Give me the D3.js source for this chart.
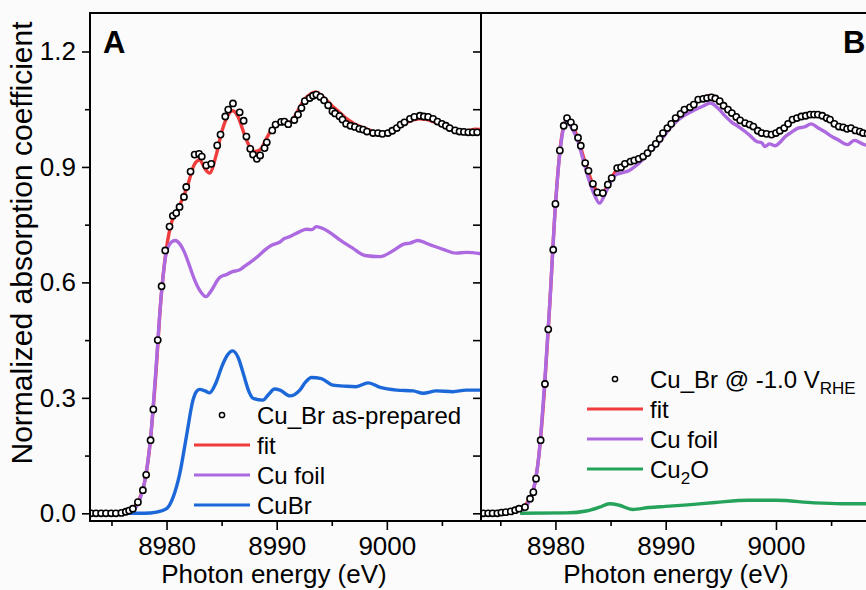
<!DOCTYPE html>
<html>
<head>
<meta charset="utf-8">
<script src="https://cdn.jsdelivr.net/npm/d3@7"></script>
<style>
  body { margin: 0; background: #fbfbfb; }
  svg { display: block; font-family: "Liberation Sans", Arial, sans-serif; }
</style>
</head>
<body>
<div id="chart"></div>
<script>
// ---- Panel A: Cu_Br as-prepared ----
const dotsA = [
  [8973.15,0.0],[8973.6,0.0],[8974.06,0.0],[8974.5,0.0],[8974.97,0.0],[8975.4,0.0],[8975.9,0.001],
  [8976.3,0.004],[8976.6,0.007],[8976.94,0.012],[8977.4,0.029],[8977.85,0.06],[8978.15,0.10],
  [8978.55,0.19],[8978.8,0.27],[8979.2,0.45],[8979.55,0.59],[8979.88,0.683],[8980.27,0.745],
  [8980.57,0.773],[8980.88,0.78],[8981.18,0.796],[8981.58,0.822],[8981.79,0.848],[8982.18,0.888],
  [8982.55,0.932],[8982.95,0.934],[8983.2,0.927],[8983.6,0.904],[8984.06,0.908],[8984.6,0.956],
  [8984.9,0.984],[8985.33,1.031],[8985.6,1.049],[8986.03,1.065],[8986.64,1.042],[8987.0,1.02],
  [8987.25,0.979],[8987.6,0.947],[8987.85,0.932],[8988.2,0.921],[8988.5,0.93],[8988.9,0.949],
  [8989.1,0.964],[8989.6,0.995],[8989.9,1.010],[8990.4,1.017],[8990.7,1.018],[8991.05,1.011],
  [8991.6,1.022],[8991.94,1.036],[8992.25,1.053],[8992.55,1.071],[8993.0,1.079],[8993.3,1.085],
  [8993.6,1.088],[8993.97,1.082],[8994.3,1.073],[8994.67,1.06],[8995.06,1.045],[8995.3,1.039],
  [8995.7,1.032],[8995.97,1.023],[8996.3,1.012],[8996.7,1.007],[8997.1,1.004],[8997.5,0.999],
  [8997.85,0.997],[8998.2,0.992],[8998.75,0.988],[8999.2,0.988],[8999.6,0.986],[9000.1,0.988],
  [9000.5,0.994],[9000.9,1.001],[9001.25,1.010],[9001.6,1.016],[9002.1,1.025],[9002.5,1.030],
  [9003.0,1.033],[9003.36,1.031],[9003.75,1.030],[9004.2,1.025],[9004.6,1.018],[9005.0,1.012],
  [9005.36,1.007],[9005.7,1.001],[9006.2,0.995],[9006.6,0.992],[9007.0,0.991],[9007.4,0.990],
  [9007.8,0.990],[9008.2,0.990]
];
const fitA = [
  [8976.5,0.005],[8977,0.015],[8977.5,0.035],[8978,0.08],[8978.5,0.18],[8979,0.35],[8979.5,0.56],
  [8980,0.69],[8980.5,0.76],[8981,0.79],[8981.5,0.82],[8982,0.86],[8982.5,0.905],[8983,0.918],
  [8983.5,0.895],[8983.9,0.884],[8984.5,0.93],[8985,0.99],[8985.5,1.03],[8986,1.046],[8986.5,1.03],
  [8987,0.99],[8987.5,0.955],[8988,0.94],[8988.5,0.945],[8989,0.97],[8989.5,0.995],[8990,1.01],
  [8990.5,1.015],[8991,1.013],[8991.5,1.025],[8992,1.05],[8992.5,1.075],[8993,1.088],[8993.5,1.095],
  [8994,1.088],[8994.5,1.074],[8995,1.06],[8995.5,1.047],[8996,1.034],[8996.5,1.022],[8997,1.013],
  [8997.5,1.006],[8998,1.0],[8998.5,0.995],[8999,0.99],[8999.5,0.989],[9000,0.991],[9000.5,0.997],
  [9001,1.005],[9001.5,1.012],[9002,1.018],[9002.5,1.023],[9003,1.025],[9003.5,1.024],[9004,1.02],
  [9004.5,1.015],[9005,1.01],[9005.5,1.004],[9006,0.999],[9006.5,0.994],[9007,0.993],[9007.5,0.995],
  [9008,0.998],[9008.6,0.997]
];
const foilA = [
  [8976.5,0.0],[8977,0.008],[8977.5,0.03],[8978,0.08],[8978.5,0.18],[8979,0.36],[8979.5,0.56],
  [8980,0.68],[8980.5,0.706],[8980.8,0.709],[8981.2,0.70],[8981.6,0.68],[8982,0.65],[8982.5,0.61],
  [8983,0.58],[8983.6,0.563],[8984,0.576],[8984.8,0.612],[8985.4,0.62],[8986,0.628],[8986.6,0.632],
  [8987,0.64],[8987.5,0.65],[8988.3,0.668],[8989,0.686],[8989.5,0.696],[8990.3,0.705],[8990.7,0.714],
  [8991.2,0.719],[8992.1,0.732],[8992.7,0.738],[8993.2,0.737],[8993.6,0.745],[8994.2,0.74],
  [8994.7,0.732],[8995.7,0.711],[8996.9,0.689],[8998,0.670],[8999.4,0.667],[9000.6,0.683],
  [9001.6,0.700],[9002.1,0.702],[9002.8,0.709],[9003.9,0.698],[9005.1,0.686],[9006.3,0.676],
  [9007.2,0.678],[9008.6,0.674]
];
const cubrA = [
  [8976.4,0.0],[8978,0.0],[8979.1,0.003],[8980,0.012],[8980.6,0.042],[8981.2,0.103],[8981.8,0.199],
  [8982.4,0.294],[8982.7,0.316],[8983,0.322],[8983.5,0.318],[8983.9,0.313],[8984.5,0.34],
  [8985,0.38],[8985.5,0.41],[8986,0.422],[8986.5,0.405],[8987,0.36],[8987.5,0.315],[8987.85,0.299],
  [8988.75,0.294],[8989.3,0.31],[8989.8,0.323],[8990.3,0.32],[8991.2,0.305],[8992.1,0.32],
  [8992.6,0.34],[8993.15,0.353],[8994.06,0.35],[8995.1,0.333],[8996.3,0.33],[8997.2,0.329],
  [8998.3,0.339],[8999.4,0.327],[9000.9,0.32],[9002.4,0.318],[9003.3,0.312],[9004.5,0.318],
  [9006,0.316],[9007.2,0.32],[9008.6,0.32]
];

// ---- Panel B: Cu_Br @ -1.0 V_RHE ----
const dotsB = [
  [8973.46,0.0],[8973.9,0.0],[8974.3,0.0],[8974.73,0.0],[8975.1,0.002],[8975.5,0.003],
  [8975.95,0.005],[8976.35,0.008],[8976.7,0.012],[8977.24,0.016],[8977.7,0.038],[8978.0,0.055],
  [8978.24,0.09],[8978.66,0.19],[8979.05,0.336],[8979.35,0.478],[8979.8,0.685],[8980.0,0.804],
  [8980.4,0.943],[8980.75,1.007],[8981.05,1.027],[8981.4,1.016],[8981.7,1.003],[8982.05,0.976],
  [8982.3,0.955],[8982.7,0.91],[8983.0,0.89],[8983.4,0.856],[8983.8,0.834],[8984.3,0.832],
  [8984.75,0.854],[8985.1,0.871],[8985.6,0.897],[8985.95,0.899],[8986.3,0.908],[8986.8,0.914],
  [8987.15,0.917],[8987.55,0.921],[8987.95,0.927],[8988.35,0.936],[8988.7,0.949],[8989.1,0.96],
  [8989.45,0.973],[8989.75,0.988],[8990.15,1.001],[8990.5,1.012],[8990.9,1.027],[8991.35,1.038],
  [8991.7,1.049],[8992.2,1.055],[8992.55,1.062],[8992.95,1.075],[8993.4,1.077],[8993.75,1.079],
  [8994.15,1.081],[8994.5,1.078],[8994.9,1.071],[8995.25,1.059],[8995.65,1.049],[8996.0,1.04],
  [8996.4,1.03],[8996.75,1.021],[8997.2,1.014],[8997.6,1.01],[8997.95,1.005],[8998.35,0.994],
  [8998.7,0.988],[8999.15,0.986],[8999.6,0.984],[9000.0,0.988],[9000.35,0.994],[9000.75,1.001],
  [9001.1,1.012],[9001.5,1.023],[9001.9,1.027],[9002.3,1.031],[9002.7,1.033],[9003.1,1.036],
  [9003.45,1.036],[9003.8,1.036],[9004.2,1.033],[9004.6,1.027],[9004.9,1.023],[9005.3,1.012],
  [9005.7,1.005],[9006.1,1.003],[9006.45,0.999],[9006.8,1.001],[9007.2,0.995],[9007.6,0.992],
  [9007.9,0.988],[9008.3,0.986]
];
const fitB = [
  [8976.8,0.008],[8977.5,0.03],[8978,0.06],[8978.5,0.15],[8979,0.32],[8979.5,0.55],[8980,0.80],
  [8980.5,0.965],[8981,1.022],[8981.5,1.008],[8982,0.978],[8982.5,0.93],[8983,0.885],[8983.5,0.85],
  [8984,0.83],[8984.5,0.84],[8985,0.868],[8985.5,0.89],[8986.3,0.905],[8987.2,0.918],[8988,0.93],
  [8988.7,0.95],[8989.5,0.975],[8990.3,1.005],[8991,1.028],[8991.7,1.047],[8992.5,1.062],
  [8993.3,1.078],[8994,1.086],[8994.6,1.078],[8995.3,1.058],[8996,1.04],[8996.8,1.022],
  [8997.6,1.01],[8998.3,1.0],[8998.8,0.99],[8999.6,0.985],[9000.3,0.992],[9001,1.01],[9001.8,1.025],
  [9002.6,1.032],[9003.5,1.034],[9004.3,1.03],[9005,1.018],[9005.8,1.005],[9006.6,0.998],
  [9007.4,0.993],[9008.9,0.985]
];
const foilB = [
  [8977,0.005],[8977.5,0.025],[8978,0.06],[8978.5,0.15],[8979,0.33],[8979.5,0.55],[8980,0.80],
  [8980.5,0.96],[8981,1.02],[8981.5,1.0],[8982,0.97],[8982.5,0.92],[8983,0.87],[8983.5,0.83],
  [8984,0.806],[8984.5,0.83],[8985,0.86],[8985.5,0.88],[8986.1,0.885],[8986.7,0.891],[8987.3,0.903],
  [8987.9,0.919],[8988.6,0.94],[8989.4,0.964],[8990.1,0.99],[8990.9,1.016],[8991.6,1.032],
  [8992.4,1.045],[8993.3,1.057],[8994.05,1.066],[8994.8,1.051],[8995.4,1.032],[8996,1.016],
  [8996.6,1.005],[8997.2,0.992],[8997.7,0.98],[8998.25,0.966],[8998.7,0.963],[8999,0.953],
  [8999.4,0.96],[8999.9,0.955],[9000.4,0.965],[9000.8,0.978],[9001.4,0.99],[9002,1.001],
  [9002.6,1.004],[9003.2,1.012],[9003.8,1.002],[9004.4,0.992],[9005,0.98],[9005.6,0.971],
  [9006.5,0.958],[9007.1,0.969],[9008,0.958],[9008.9,0.955]
];
const cu2oB = [
  [8976.8,0.0],[8981,0.001],[8982.8,0.006],[8984,0.016],[8984.9,0.025],[8985.8,0.021],[8987,0.01],
  [8988.5,0.015],[8990,0.018],[8992,0.022],[8994.5,0.028],[8997.5,0.034],[9000,0.034],
  [9003.5,0.027],[9006,0.025],[9008.9,0.025]
];

const yMajor = [0, 0.3, 0.6, 0.9, 1.2];
const yMinor = [0.15, 0.45, 0.75, 1.05];
const xMajor = [8980, 8990, 9000];
const xMinor = [8975, 8985, 8995, 9005];

const colors = { fit: '#f03c3c', foil: '#ad6ae0', cubr: '#1c68d8', cu2o: '#25a35b' };

const W = 866, H = 590;
const plotTop = 13, plotBottom = 521;

const svg = d3.select('#chart').append('svg')
  .attr('width', W).attr('height', H);

const y = d3.scaleLinear().domain([-0.02, 1.3]).range([plotBottom, plotTop]);
const xA = d3.scaleLinear().domain([8973.05, 9008.55]).range([90, 481]);
const xB = d3.scaleLinear().domain([8973.25, 9008.8]).range([481, 873]);

svg.append('defs').selectAll('clipPath')
  .data([['clipA', 90, 481], ['clipB', 481, 873]])
  .enter().append('clipPath').attr('id', d => d[0])
  .append('rect')
  .attr('x', d => d[1]).attr('y', plotTop)
  .attr('width', d => d[2] - d[1]).attr('height', plotBottom - plotTop);

function drawPanel(x, clipId, series, dots) {
  const g = svg.append('g').attr('clip-path', `url(#${clipId})`);
  const line = d3.line().x(d => x(d[0])).y(d => y(d[1])).curve(d3.curveMonotoneX);
  series.forEach(s => {
    g.append('path')
      .datum(s.data)
      .attr('fill', 'none')
      .attr('stroke', s.color)
      .attr('stroke-width', 3.4)
      .attr('stroke-linejoin', 'round')
      .attr('d', line);
  });
  g.selectAll('circle.dot')
    .data(dots)
    .enter().append('circle')
    .attr('class', 'dot')
    .attr('cx', d => x(d[0]))
    .attr('cy', d => y(d[1]))
    .attr('r', 3.1)
    .attr('fill', '#fff')
    .attr('stroke', '#000')
    .attr('stroke-width', 1.6);
}

drawPanel(xA, 'clipA', [
  { data: fitA, color: colors.fit },
  { data: foilA, color: colors.foil },
  { data: cubrA, color: colors.cubr }
], dotsA);

drawPanel(xB, 'clipB', [
  { data: fitB, color: colors.fit },
  { data: foilB, color: colors.foil },
  { data: cu2oB, color: colors.cu2o }
], dotsB);

// axes
function styleAxis(g) {
  g.select('.domain').remove();
  g.selectAll('.tick line').attr('stroke', '#000').attr('stroke-width', 1.6);
  g.selectAll('.tick text')
    .attr('fill', '#000')
    .style('font-size', '26px')
    .style('font-family', '"Liberation Sans", Arial, sans-serif');
}

svg.append('g').attr('transform', 'translate(90,0)')
  .call(d3.axisLeft(y).tickValues(yMajor).tickSize(8).tickPadding(6).tickFormat(d3.format('.1f')))
  .call(styleAxis);
svg.append('g').attr('transform', 'translate(90,0)')
  .call(d3.axisLeft(y).tickValues(yMinor).tickSize(5).tickFormat(''))
  .call(styleAxis);
svg.append('g').attr('transform', 'translate(481,0)')
  .call(d3.axisLeft(y).tickValues(yMajor.concat(yMinor)).tickSize(8).tickFormat(''))
  .call(styleAxis);

[xA, xB].forEach(x => {
  svg.append('g').attr('transform', `translate(0,${plotBottom})`)
    .call(d3.axisBottom(x).tickValues(xMajor).tickSize(9).tickPadding(7).tickFormat(d3.format('d')))
    .call(styleAxis);
  svg.append('g').attr('transform', `translate(0,${plotBottom})`)
    .call(d3.axisBottom(x).tickValues(xMinor.filter(v => x(v) < W)).tickSize(5).tickFormat(''))
    .call(styleAxis);
});

// frame
const frame = svg.append('g').attr('stroke', '#000').attr('stroke-width', 2);
frame.append('line').attr('x1', 89).attr('x2', W).attr('y1', plotTop).attr('y2', plotTop);
frame.append('line').attr('x1', 89).attr('x2', W).attr('y1', plotBottom).attr('y2', plotBottom);
frame.append('line').attr('x1', 90).attr('x2', 90).attr('y1', plotTop).attr('y2', plotBottom + 1);
frame.append('line').attr('x1', 481).attr('x2', 481).attr('y1', plotTop).attr('y2', plotBottom + 1);

// axis titles
svg.append('text')
  .attr('transform', 'translate(32,243) rotate(-90)')
  .attr('text-anchor', 'middle')
  .style('font-size', '30px')
  .text('Normalized absorption coefficient');
[[274, 'Photon energy (eV)'], [676, 'Photon energy (eV)']].forEach(d => {
  svg.append('text')
    .attr('x', d[0]).attr('y', 583)
    .attr('text-anchor', 'middle')
    .style('font-size', '26px')
    .text(d[1]);
});

// panel letters
svg.append('text').attr('x', 103).attr('y', 53)
  .style('font-size', '31px').style('font-weight', 'bold').text('A');
svg.append('text').attr('x', 843).attr('y', 53)
  .style('font-size', '31px').style('font-weight', 'bold').text('B');

// legends
function legend(cx, y0, items) {
  const g = svg.append('g');
  items.forEach((it, i) => {
    const yy = y0 + i * 30;
    if (it.type === 'dot') {
      g.append('circle').attr('cx', cx).attr('cy', yy).attr('r', 2.6)
        .attr('fill', '#fff').attr('stroke', '#000').attr('stroke-width', 1.5);
    } else {
      g.append('line').attr('x1', cx - 28).attr('x2', cx + 28)
        .attr('y1', yy).attr('y2', yy)
        .attr('stroke', it.color).attr('stroke-width', 2.8);
    }
    const t = g.append('text').attr('x', cx + 35).attr('y', yy + 8.5)
      .style('font-size', '24px');
    it.label.forEach(part => {
      const ts = t.append('tspan').text(part.t);
      if (part.sub) ts.attr('dy', 6).style('font-size', '17px');
      else if (part.after) ts.attr('dy', -6);
    });
  });
}

legend(222, 415, [
  { type: 'dot', label: [{ t: 'Cu_Br as-prepared' }] },
  { type: 'line', color: colors.fit, label: [{ t: 'fit' }] },
  { type: 'line', color: colors.foil, label: [{ t: 'Cu foil' }] },
  { type: 'line', color: colors.cubr, label: [{ t: 'CuBr' }] }
]);
legend(615, 379, [
  { type: 'dot', label: [{ t: 'Cu_Br @ -1.0 V' }, { t: 'RHE', sub: true }] },
  { type: 'line', color: colors.fit, label: [{ t: 'fit' }] },
  { type: 'line', color: colors.foil, label: [{ t: 'Cu foil' }] },
  { type: 'line', color: colors.cu2o, label: [{ t: 'Cu' }, { t: '2', sub: true }, { t: 'O', after: true }] }
]);
</script>
</body>
</html>
